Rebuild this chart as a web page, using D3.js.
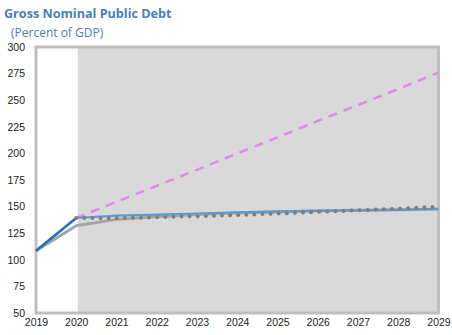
<!DOCTYPE html>
<html lang="en">
<head>
<meta charset="UTF-8">
<title>Gross Nominal Public Debt</title>
<style>
  body { margin: 0; background: #fff; }
  svg { display: block; font-family: "Open Sans", sans-serif; }
  .tick text { font-size: 10.5px; fill: #222; }
  .title { font-weight: 700; font-size: 12.6px; fill: #4a7ebb; }
  .sub { font-size: 12px; fill: #4a7ebb; }
</style>
</head>
<body>
<svg width="452" height="335"></svg>
<script src="https://d3js.org/d3.v7.min.js"></script>
<script>
// years and tick labels
var years = [2019, 2020, 2021, 2022, 2023, 2024, 2025, 2026, 2027, 2028, 2029];
var yTicks = [50, 75, 100, 125, 150, 175, 200, 225, 250, 275, 300];

// series (percent of GDP)
var actual = [108.5, 139.3];                         // 2019-2020, dark blue
var baseline = [null, 139.3, 141.5, 142.5, 143.5, 144.5, 145.5, 146, 146.5, 147, 148];
var dotted = [null, 139.3, 139, 140, 141, 142, 143.5, 145, 146.5, 148, 150];
var grey = [108.5, 132, 138, 140.5, 142.5, 144, 145, 146, 146.5, 147, 147.5];
var pink = [null, 139.3, 154.5, 169.5, 184.5, 200, 215, 230.5, 245.5, 260.5, 276];

var svg = d3.select("svg");
var x = d3.scaleLinear().domain([2019, 2029]).range([36, 438.5]);
var y = d3.scaleLinear().domain([50, 300]).range([313, 47]);

svg.append("text").attr("class", "title").attr("x", 4).attr("y", 18).text("Gross Nominal Public Debt");
svg.append("text").attr("class", "sub").attr("x", 11).attr("y", 37).text("(Percent of GDP)");

// shaded projection area
svg.append("rect")
  .attr("x", x(2020) + 1.5).attr("y", y(300))
  .attr("width", x(2029) - x(2020) - 1.5).attr("height", y(50) - y(300))
  .attr("fill", "#d9d9d9");

// frame
svg.append("rect")
  .attr("x", x(2019)).attr("y", y(300))
  .attr("width", x(2029) - x(2019)).attr("height", y(50) - y(300))
  .attr("fill", "none").attr("stroke", "#bfbfbf").attr("stroke-width", 3);

// axes
svg.append("g")
  .attr("transform", "translate(" + x(2019) + ",0)")
  .call(d3.axisLeft(y).tickValues(yTicks).tickSize(0).tickPadding(11).tickFormat(d3.format("d")))
  .call(function(g) { g.select(".domain").remove(); });

svg.append("g")
  .attr("transform", "translate(0," + y(50) + ")")
  .call(d3.axisBottom(x).tickValues(years).tickSize(0).tickPadding(6).tickFormat(d3.format("d")))
  .call(function(g) { g.select(".domain").remove(); });

function line(vals) {
  return d3.line()
    .defined(function(d) { return d != null; })
    .x(function(d, i) { return x(years[i]); })
    .y(function(d) { return y(d); })(vals);
}

svg.append("path").attr("d", line(grey))
  .attr("fill", "none").attr("stroke", "#a6a6a6").attr("stroke-width", 3);

svg.append("path").attr("d", line(pink))
  .attr("fill", "none").attr("stroke", "#df8ce3").attr("stroke-width", 2.5)
  .attr("stroke-dasharray", "9,7");

svg.append("path").attr("d", line(baseline))
  .attr("fill", "none").attr("stroke", "#5b9bd5").attr("stroke-width", 2.2);

svg.append("path").attr("d", line(actual))
  .attr("fill", "none").attr("stroke", "#1f6cb8").attr("stroke-width", 2.5);

svg.append("path").attr("d", line(dotted))
  .attr("fill", "none").attr("stroke", "#7f7f7f").attr("stroke-width", 4)
  .attr("stroke-linecap", "round").attr("stroke-dasharray", "0,8.1");
</script>
</body>
</html>
